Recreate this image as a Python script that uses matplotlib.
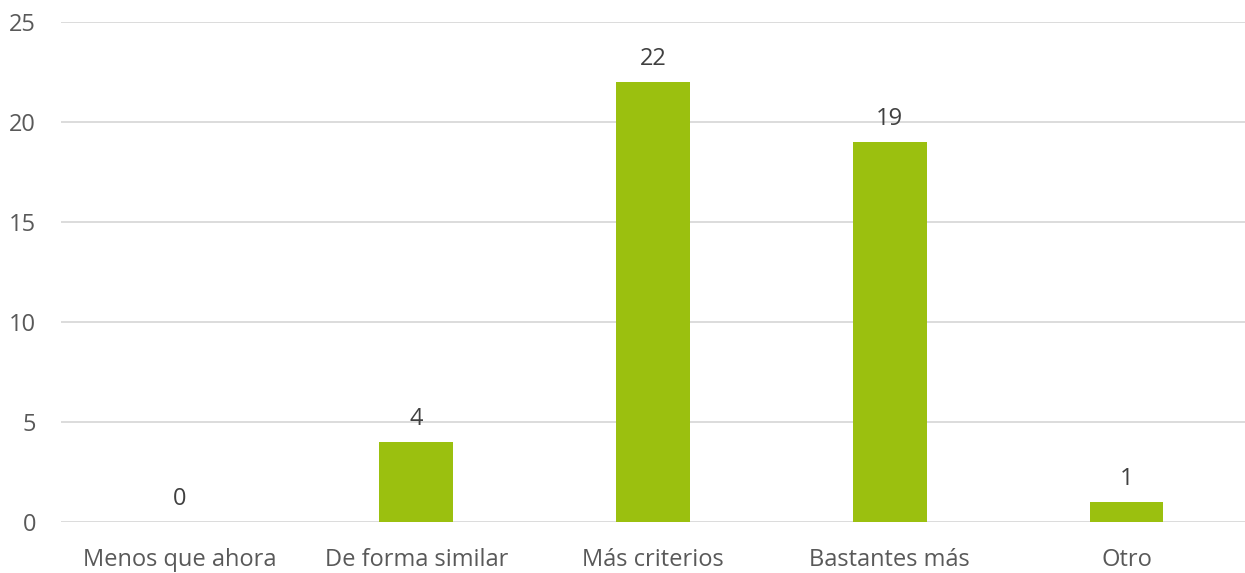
import matplotlib
matplotlib.use("Agg")
import matplotlib.pyplot as plt

categories = ["Menos que ahora", "De forma similar", "Más criterios", "Bastantes más", "Otro"]
values = [0, 4, 22, 19, 1]
yticks = [0, 5, 10, 15, 20, 25]

plt.rcParams["font.family"] = ["Open Sans", "DejaVu Sans"]
text_col = "#595959"
bar_col = "#9bc00f"

fig = plt.figure(figsize=(12.45, 5.73), dpi=100)
ax = fig.add_axes([0.049, 0.089, 0.951, 0.8725])
x = range(len(categories))
bars = ax.bar(x, values, width=0.31, color=bar_col, zorder=3)
for xi, v in zip(x, values):
    ax.annotate(str(v), (xi, v), xytext=(0, 8), textcoords="offset points",
                ha="center", va="bottom", fontsize=17, color="#404040")

ax.set_xlim(-0.5, len(categories) - 0.5)
ax.set_ylim(0, 25)
ax.set_yticks(yticks)
ax.set_xticks(list(x))
ax.set_xticklabels(categories)
ax.grid(axis="y", color="#d9d9d9", lw=1.3, zorder=0)
for s in ax.spines.values():
    s.set_visible(False)
ax.tick_params(length=0, labelsize=17, labelcolor=text_col)
ax.tick_params(axis="y", pad=18)
ax.tick_params(axis="x", pad=19)

fig.savefig("out.png", dpi=100)
